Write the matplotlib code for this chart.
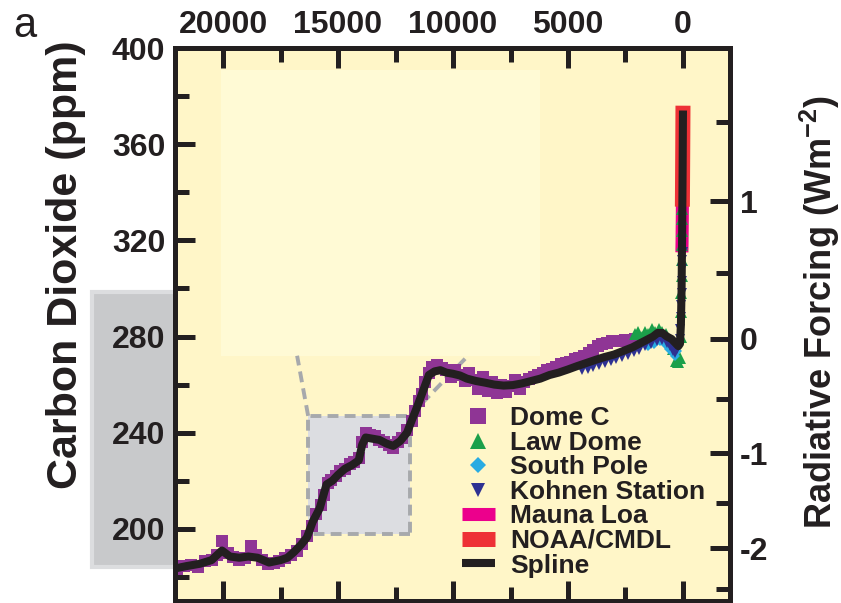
import matplotlib.pyplot as plt
import numpy as np
from matplotlib.patches import Rectangle

plt.rcParams['font.family'] = ['Liberation Sans', 'DejaVu Sans']
plt.rcParams['font.weight'] = 'bold'
plt.rcParams['axes.unicode_minus'] = False
plt.rcParams['mathtext.default'] = 'regular'

INK = '#231f20'
C0 = 279.0  # CO2 (ppm) taken as zero forcing

# Dome C ice core (years before 2005, ppm)
domec_year = [22000, 21700, 21400, 21100, 20800, 20500, 20250, 20050, 19800, 19550,
              19300, 19050, 18800, 18550, 18300, 18050, 17800, 17550, 17300, 17050,
              16800, 16550, 16350, 16150, 15950, 15750, 15600, 15450, 15300, 15100,
              14900, 14700, 14500, 14300, 14100, 13950, 13800, 13600, 13400, 13200,
              13000, 12800, 12600, 12400, 12200, 12000, 11800, 11650, 11500, 11350,
              11200, 11050, 10900, 10700, 10500, 10300, 10100, 9900, 9700, 9500,
              9300, 9100, 8900, 8700, 8500, 8300, 8100, 7900, 7700, 7500,
              7300, 7100, 6900, 6700, 6500, 6300, 6100, 5900, 5700, 5500,
              5300, 5100, 4900, 4700, 4500, 4300, 4100, 3900, 3700, 3500,
              3300, 3100, 2900, 2700, 2500, 2300, 2100]
domec_ppm = [183.5, 184.5, 185, 184, 186.5, 187, 189, 195, 190, 188.5,
             187, 188, 193, 189, 187, 185.5, 186, 186.5, 188, 189,
             191, 193.5, 197, 201, 206, 210, 214, 219, 220.5, 222,
             224, 225, 227, 228, 229.5, 236, 240, 239, 238.5, 237,
             236, 235, 233.5, 236, 238, 241, 245, 249, 253, 256,
             261, 265, 267.5, 268, 267, 266, 263, 266, 264, 261.5,
             265, 262, 258, 263, 257.5, 261, 256.5, 260, 257, 259.5,
             262, 258, 261, 262.5, 263, 264, 265, 266, 266.5, 267.5,
             268.5, 269, 269.5, 270.5, 271, 272, 273, 274.5, 276, 277,
             277.5, 278, 278, 278, 278.5, 278, 279]

# Law Dome
lawdome_year = [2100, 1950, 1800, 1650, 1500, 1350, 1200, 1050, 900, 750,
                600, 450, 300, 200, 140, 100, 80, 65, 55, 45,
                38, 32, 27, 22]
lawdome_ppm = [281, 282, 280, 282, 281, 283, 282, 283, 282, 281,
               279, 275, 270, 269.5, 271, 280, 290, 298, 305, 312,
               318, 324, 329, 333]

# South Pole
southpole_year = [1500, 1250, 1000, 800, 600, 450, 350, 250]
southpole_ppm = [276, 277, 278, 277, 275, 273, 272, 274]

# Kohnen Station
kohnen_year = [4400, 4150, 3900, 3650, 3400, 3150, 2900, 2650, 2400, 2150,
               1900, 1650, 1400, 1150, 900, 700, 550, 420, 330, 260,
               200, 150, 110, 90, 75, 60, 50, 40, 30, 20]
kohnen_ppm = [266, 266.5, 267.5, 268, 269, 270, 270.5, 271.5, 272.5, 273.5,
              274.5, 276, 277, 278, 278.5, 277.5, 276, 274, 273, 275,
              277, 279, 283, 288, 293, 298, 303, 308, 312, 315]

# Mauna Loa and NOAA/CMDL atmospheric records
maunaloa_year = [47, 40, 35, 30, 25, 20, 15, 10, 5, 0]
maunaloa_ppm = [315, 319.5, 324.5, 329, 336, 343, 350, 357, 365, 374]
noaa_year = [26, 22, 18, 14, 10, 6, 2, 0]
noaa_ppm = [334, 340, 346, 352, 358, 365, 372, 376]

# smoothing spline through all records
spline_year = [22100, 21600, 21000, 20500, 20050, 19700, 19300, 18900, 18500, 18000,
               17500, 17200, 16900, 16600, 16350, 16100, 15800, 15500, 15250, 15000,
               14700, 14400, 14100, 13950, 13800, 13500, 13200, 12900, 12600, 12300,
               12000, 11800, 11550, 11300, 11050, 10800, 10550, 10300, 10000, 9700,
               9400, 9000, 8600, 8200, 7800, 7400, 7000, 6600, 6200, 5800,
               5400, 5000, 4600, 4200, 3800, 3400, 3000, 2600, 2200, 1900,
               1600, 1300, 1100, 900, 700, 500, 350, 200, 130, 90,
               60, 35, 15, 0]
spline_ppm = [183.5, 184.5, 185.5, 187, 191, 188.5, 188, 188.5, 188, 186,
              187, 188, 190.5, 193.5, 196.5, 203, 208.5, 218.5, 220, 222.5,
              225, 226.5, 228.5, 235, 238, 237.5, 237, 235.5, 234.5, 236.5,
              240, 245, 251, 257.5, 264, 265.5, 266, 265, 264.5, 263.8,
              262.5, 261.5, 260.8, 260, 259.6, 259.8, 260.5, 261.5, 262.5, 264,
              265, 266.3, 267.7, 269, 270.3, 271.5, 272.5, 274, 275.5, 277,
              278.5, 280, 281.5, 281.5, 280, 279, 277.5, 276, 277, 285,
              300, 325, 350, 374]


def to_forcing(c):
    return 5.35 * np.log(np.asarray(c, dtype=float) / C0)


def to_ppm(f):
    return C0 * np.exp(np.asarray(f, dtype=float) / 5.35)


fig = plt.figure(figsize=(8.41, 6.03), dpi=100)
ax = fig.add_axes([175 / 841, 2 / 603, 555 / 841, 553 / 603])
ax.set_facecolor('#fff6c8')
ax.set_xlim(22090, -2045)
ax.set_ylim(170, 400)

# grey band behind the left tick labels
fig.add_artist(Rectangle((92 / 841, 36 / 603), 83 / 841, 275 / 603,
                         transform=fig.transFigure, facecolor='#c8c9cb',
                         edgecolor='#dcdddf', lw=3, zorder=-1))

# paler area and the dashed deglaciation box
ax.add_patch(Rectangle((6217, 272), 20087 - 6217, 390.8 - 272,
                       facecolor='#fffad5', edgecolor='none', zorder=0.5))
ax.add_patch(Rectangle((11870, 198), 16300 - 11870, 247 - 198,
                       facecolor='#dcdde1', edgecolor='#a7a9ac', lw=2.8,
                       linestyle=(0, (2.8, 1.6)), zorder=1))
ax.plot([16300, 16780], [247, 272], color='#a7a9ac', lw=2.8,
        linestyle=(0, (2.8, 1.6)), zorder=1)
ax.plot([11870, 9350], [247, 272], color='#a7a9ac', lw=2.8,
        linestyle=(0, (2.8, 1.6)), zorder=1)

h_domec, = ax.plot(domec_year, domec_ppm, 's', color='#8f3595', ms=8.5, mew=0,
                   label='Dome C', zorder=2)
h_ml, = ax.plot(maunaloa_year, maunaloa_ppm, color='#ec008c', lw=9.4,
                solid_capstyle='butt', label='Mauna Loa', zorder=2.5)
h_law, = ax.plot(lawdome_year, lawdome_ppm, '^', color='#1ba04a', ms=8, mew=0,
                 label='Law Dome', zorder=3)
h_sp, = ax.plot(southpole_year, southpole_ppm, 'D', color='#29abe2', ms=5.5, mew=0,
                label='South Pole', zorder=3)
h_koh, = ax.plot(kohnen_year, kohnen_ppm, 'v', color='#2e3192', ms=7.5, mew=0,
                 label='Kohnen Station', zorder=3)
h_noaa, = ax.plot(noaa_year, noaa_ppm, color='#ee3136', lw=10.8,
                  solid_capstyle='butt', label='NOAA/CMDL', zorder=4)
h_spl, = ax.plot(spline_year, spline_ppm, color=INK, lw=5.8,
                 solid_capstyle='butt', solid_joinstyle='round',
                 label='Spline', zorder=5)

# axes styling
for side in ax.spines:
    ax.spines[side].set_linewidth(3.6)
    ax.spines[side].set_color(INK)
ax.set_xticks([20000, 15000, 10000, 5000, 0])
ax.set_xticks([17500, 12500, 7500, 2500], minor=True)
ax.set_yticks([200, 240, 280, 320, 360, 400])
ax.set_yticks([180, 220, 260, 300, 340, 380], minor=True)
ax.tick_params(which='both', direction='in', top=True, bottom=True, left=True,
               right=False, labeltop=True, labelbottom=False, width=3.6,
               color=INK, labelcolor=INK, labelsize=23)
ax.tick_params(which='major', length=14.4)
ax.tick_params(which='minor', length=10)
ax.tick_params(axis='x', pad=6)
ax.tick_params(axis='y', pad=7)

ax.set_ylabel('Carbon Dioxide (ppm)', fontsize=31, fontweight='bold', color=INK)
ax.yaxis.set_label_coords(-0.16, 0.609)

sec = ax.secondary_yaxis('right', functions=(to_forcing, to_ppm))
sec.set_yticks([-2, -1, 0, 1])
sec.set_yticks([-2.5, -1.5, -0.5, 0.5, 1.5], minor=True)
sec.spines['right'].set_linewidth(3.6)
sec.spines['right'].set_color(INK)
sec.tick_params(which='both', direction='in', width=3.6, color=INK,
                labelcolor=INK, labelsize=23, pad=7)
sec.tick_params(which='major', length=14.4)
sec.tick_params(which='minor', length=10)

fig.text(820 / 841, 1 - 312 / 603, 'Radiative Forcing (Wm$^{-2}$)',
         fontsize=26, fontweight='bold', color=INK, rotation=90,
         ha='center', va='center')

ax.legend(handles=[h_domec, h_law, h_sp, h_koh, h_ml, h_noaa, h_spl],
          loc='upper left', bbox_to_anchor=(0.517, 0.352), frameon=False,
          borderpad=0, borderaxespad=0, fontsize=19, labelspacing=0.02,
          handlelength=1.24, handletextpad=0.6, markerscale=1.4,
          labelcolor=INK)

fig.text(13 / 841, 1 - 37 / 603, 'a', fontsize=30, fontweight='normal',
         color=INK, ha='left', va='baseline')

fig.savefig('out.png', dpi=100)
